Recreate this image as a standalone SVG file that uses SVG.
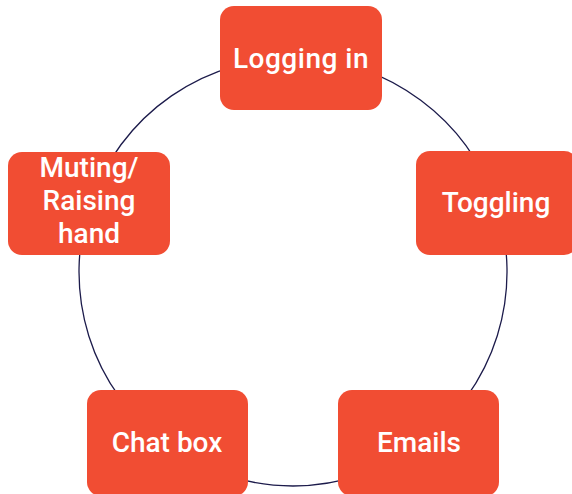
<svg xmlns="http://www.w3.org/2000/svg" width="572" height="494" viewBox="0 0 572 494">
<style>
.box{fill:#F14D33}
.lbl{fill:#FFFFFF;font-family:Roboto,"Liberation Sans",sans-serif;font-weight:500;font-size:28px;text-anchor:middle;letter-spacing:0px}
.arc{fill:none;stroke:#1C1B4B;stroke-width:1.3}
</style>
<rect width="572" height="494" fill="#FFFFFF"/>
<g id="connectors">
<path class="arc" d="M300.8,58.1 A214,214 0 0 1 495.6,203"/>
<path class="arc" d="M495.6,203 A214,214 0 0 1 420.3,444"/>
<path class="arc" d="M420.3,444 A214,214 0 0 1 165.7,444"/>
<path class="arc" d="M165.7,444 A214,214 0 0 1 90.3,203.4"/>
<path class="arc" d="M90.3,203.4 A214,214 0 0 1 300.8,58.1"/>
</g>
<g id="node-logging-in">
<rect class="box" x="220" y="6" width="162" height="104" rx="14"/>
<text class="lbl" x="301" y="68" style="letter-spacing:0.5px">Logging in</text>
</g>
<g id="node-toggling">
<rect class="box" x="416" y="151" width="162" height="104" rx="14"/>
<text class="lbl" x="496" y="212">Toggling</text>
</g>
<g id="node-emails">
<rect class="box" x="338" y="390" width="161" height="106" rx="14"/>
<text class="lbl" x="419" y="452">Emails</text>
</g>
<g id="node-chat-box">
<rect class="box" x="87" y="390" width="161" height="106" rx="14"/>
<text class="lbl" x="167" y="452">Chat box</text>
</g>
<g id="node-muting">
<rect class="box" x="8" y="152" width="162" height="103" rx="14"/>
<text class="lbl" x="89" y="177">Muting/</text>
<text class="lbl" x="89" y="210">Raising</text>
<text class="lbl" x="89" y="243">hand</text>
</g>
</svg>
